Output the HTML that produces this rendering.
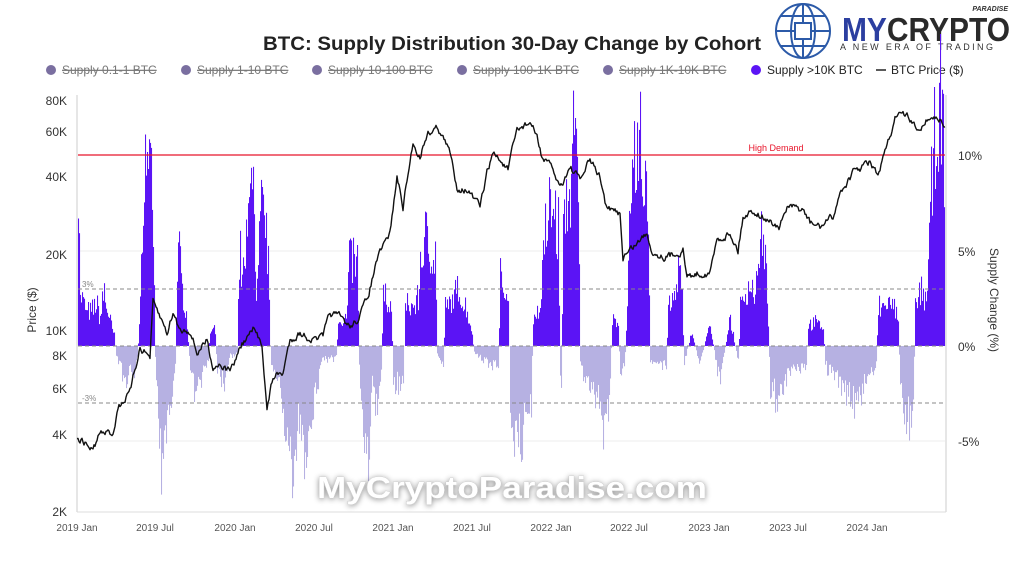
<!DOCTYPE html>
<html><head><meta charset="utf-8"><style>
body{margin:0;background:#fff;}
svg{display:block;font-family:"Liberation Sans",sans-serif;}
</style></head><body>
<svg id="c" width="1024" height="576" xmlns="http://www.w3.org/2000/svg">
<rect width="1024" height="576" fill="#fff"/>
<text x="512" y="50" text-anchor="middle" font-size="19" font-weight="bold" fill="#222" textLength="498" lengthAdjust="spacingAndGlyphs">BTC: Supply Distribution 30-Day Change by Cohort</text>
<g font-size="12" fill="#777">
<circle cx="51" cy="70" r="5" fill="#7a6fa0"/><text x="62" y="74" text-decoration="line-through">Supply 0.1-1 BTC</text>
<circle cx="186" cy="70" r="5" fill="#7a6fa0"/><text x="197" y="74" text-decoration="line-through">Supply 1-10 BTC</text>
<circle cx="317" cy="70" r="5" fill="#7a6fa0"/><text x="328" y="74" text-decoration="line-through">Supply 10-100 BTC</text>
<circle cx="462" cy="70" r="5" fill="#7a6fa0"/><text x="473" y="74" text-decoration="line-through">Supply 100-1K BTC</text>
<circle cx="608" cy="70" r="5" fill="#7a6fa0"/><text x="619" y="74" text-decoration="line-through">Supply 1K-10K BTC</text>
<circle cx="756" cy="70" r="5" fill="#5b14f5"/><text x="767" y="74" fill="#222">Supply &gt;10K BTC</text>
<line x1="876" y1="70" x2="886" y2="70" stroke="#222" stroke-width="1.5"/><text x="891" y="74" fill="#222">BTC Price ($)</text>
</g>
<g stroke="#2c5aa8" stroke-width="2" fill="none">
<circle cx="803" cy="31" r="27"/>
<ellipse cx="803" cy="31" rx="12" ry="27"/>
<line x1="776" y1="31" x2="830" y2="31"/><line x1="803" y1="4" x2="803" y2="58"/>
<path d="M781 16 H825 M781 46 H825"/>
<rect x="795" y="23" width="16" height="16" fill="#fff"/>
</g>
<text x="842" y="41" font-size="33" font-weight="bold" fill="#2a2a2a" textLength="168" lengthAdjust="spacingAndGlyphs"><tspan fill="#2c3fa0">MY</tspan>CRYPTO</text>
<text x="1008" y="11" font-size="7" font-weight="bold" font-style="italic" fill="#333" text-anchor="end">PARADISE</text>
<text x="840" y="50" font-size="9" fill="#333" letter-spacing="2.4">A NEW ERA OF TRADING</text>
<g font-size="12" fill="#333">
<text x="67" y="105" text-anchor="end">80K</text>
<text x="67" y="136" text-anchor="end">60K</text>
<text x="67" y="181" text-anchor="end">40K</text>
<text x="67" y="259" text-anchor="end">20K</text>
<text x="67" y="335" text-anchor="end">10K</text>
<text x="67" y="360" text-anchor="end">8K</text>
<text x="67" y="393" text-anchor="end">6K</text>
<text x="67" y="439" text-anchor="end">4K</text>
<text x="67" y="516" text-anchor="end">2K</text>
<text x="958" y="160">10%</text>
<text x="958" y="256">5%</text>
<text x="958" y="351">0%</text>
<text x="958" y="446">-5%</text>
<text transform="translate(36,310) rotate(-90)" text-anchor="middle">Price ($)</text>
<text transform="translate(990,300) rotate(90)" text-anchor="middle">Supply Change (%)</text>
</g>
<g font-size="10" fill="#555" text-anchor="middle">
<text x="77" y="531">2019 Jan</text><text x="155" y="531">2019 Jul</text><text x="235" y="531">2020 Jan</text><text x="314" y="531">2020 Jul</text><text x="393" y="531">2021 Jan</text><text x="472" y="531">2021 Jul</text><text x="551" y="531">2022 Jan</text><text x="629" y="531">2022 Jul</text><text x="709" y="531">2023 Jan</text><text x="788" y="531">2023 Jul</text><text x="867" y="531">2024 Jan</text>
</g>
<g stroke="#eee"><line x1="78" y1="251" x2="945" y2="251"/><line x1="78" y1="441" x2="945" y2="441"/></g>
<line x1="77" y1="95" x2="77" y2="512" stroke="#ccc"/>
<line x1="946" y1="95" x2="946" y2="512" stroke="#ccc"/>
<line x1="77" y1="512" x2="946" y2="512" stroke="#ddd"/>
<g id="bars"></g>
<g stroke="#888" stroke-dasharray="4,3" stroke-width="1">
<line x1="78" y1="289" x2="945" y2="289"/><line x1="78" y1="346" x2="945" y2="346"/><line x1="78" y1="403" x2="945" y2="403"/>
</g>
<text x="82" y="287" font-size="8" fill="#888">3%</text>
<text x="82" y="401" font-size="8" fill="#888">-3%</text>
<line x1="78" y1="155" x2="945" y2="155" stroke="#e8142a" stroke-width="1.2"/>
<text x="776" y="151" font-size="9" fill="#e8142a" text-anchor="middle">High Demand</text>
<polyline id="price" fill="none" stroke="#111" stroke-width="1.4" stroke-linejoin="round"/>
<defs><filter id="sh" x="-10%" y="-50%" width="120%" height="200%"><feDropShadow dx="0" dy="1" stdDeviation="3" flood-color="#000" flood-opacity="0.45"/></filter></defs>
<text x="512" y="498" text-anchor="middle" font-size="31" font-weight="bold" fill="#fff" stroke="#bbb" stroke-width="0.6" style="paint-order:stroke" textLength="390" lengthAdjust="spacingAndGlyphs" filter="url(#sh)">MyCryptoParadise.com</text>
</svg>
<script>
var seed=7;function rnd(){seed=(seed*16807)%2147483647;return seed/2147483647;}
function interp(pts,x){for(var i=0;i<pts.length-1;i++){if(x>=pts[i][0]&&x<=pts[i+1][0]){var t=(x-pts[i][0])/(pts[i+1][0]-pts[i][0]||1);return pts[i][1]+t*(pts[i+1][1]-pts[i][1]);}}return pts[pts.length-1][1];}
var B=[[80,2.5],[82,2.7],[88,1.8],[92,1.8],[96,2.5],[100,1.5],[104,3.2],[108,2],[112,1],[115,0.5],[116,-0.5],[120,-1],[125,-2],[128,-1.5],[135,-1.5],[138,-0.5],[140,2],[142,6],[145,10],[148,12.5],[150,9],[152,7],[154,6],[155,-0.5],[156,-1],[158,-3],[160,-6],[164,-5],[168,-4],[172,-3],[176,-1],[177,4],[180,5],[182,3],[185,2.5],[188,1],[189,-0.5],[192,-1.5],[196,-3],[200,-2],[204,-1.5],[209,-0.5],[210,0.8],[215,1],[217,-1],[224,-2],[230,-0.5],[238,-0.5],[239,5],[244,4],[248,6],[251,12],[253,11],[256,2],[258,3.5],[260,6],[262,7.5],[265,7],[268,5],[271,-1],[275,-2],[280,-1.5],[282,-3],[286,-6],[290,-7],[293,-7.5],[296,-5],[300,-4],[305,-6],[310,-4],[315,-3],[322,-0.7],[337,-0.7],[338,1.5],[347,1.5],[349,4.6],[358,4.6],[359,-1],[363,-4],[368,-6.5],[372,-2],[378,-4],[382,-1],[383,2.5],[392,2.5],[393,-2],[404,-2],[405,2],[419,2.5],[420,5],[428,5.9],[436,5],[437,-0.5],[444,-1],[445,2],[460,3],[470,1.5],[475,-0.5],[490,-1],[499,-1],[500,3.6],[509,3],[510,-3],[517,-6],[525,-4],[532,-3],[533,1.5],[540,2],[545,6],[553,8.3],[559,6],[560,-2],[562,-2],[563,6],[570,9],[576,11.5],[579,8],[580,-1],[590,-2.5],[600,-3],[605,-5],[611,-1.5],[612,1.3],[619,1.3],[620,-2],[625,-1],[630,6],[636,10.5],[643,10],[649,7],[650,-1],[667,-1],[668,2],[676,3],[680,4.5],[683,2],[684,-1],[692,0.8],[700,-1],[710,1.2],[720,-2],[730,1.5],[739,-1],[740,2],[750,3.5],[756,3],[762,6.2],[768,2.5],[770,-2],[780,-3],[789,-1.5],[807,-1.2],[808,1.2],[824,1.2],[825,-1],[840,-2],[850,-2.5],[857,-3.5],[865,-2],[877,-1],[878,2],[890,2.5],[899,1.5],[900,-2.5],[908,-4],[914,-3],[915,2],[922,3.1],[927,2.5],[928,5],[933,9],[938,12.3],[943,12],[945,8]];
var g=document.getElementById('bars'),h='';
for(var x=78;x<945;x++){var v=interp(B,x+0.5);var r=rnd();v=v*(0.65+0.55*r*r+0.2*rnd());var y=346-v*19.1;
if(v>=0)h+='<rect x="'+x+'" y="'+y.toFixed(1)+'" width="1.05" height="'+(346-y).toFixed(1)+'" fill="#5b14f5"/>';
else h+='<rect x="'+x+'" y="346" width="1.05" height="'+(y-346).toFixed(1)+'" fill="#b6b1e2"/>';}
g.innerHTML=h;
var P=[[77,437],[85,443],[93,450],[100,433],[113,433],[118,407],[130,393],[140,347],[150,357],[153,303],[160,317],[167,333],[173,313],[180,330],[190,330],[197,353],[207,340],[213,367],[220,363],[227,370],[233,367],[240,347],[253,330],[262,343],[267,410],[273,377],[283,373],[290,340],[300,333],[313,340],[323,337],[330,313],[340,317],[350,327],[357,320],[367,300],[377,260],[390,233],[397,177],[403,207],[413,143],[420,157],[427,133],[438,127],[450,153],[457,187],[467,190],[480,207],[487,173],[493,153],[500,160],[508,170],[517,130],[530,122],[537,137],[542,157],[553,170],[560,187],[570,167],[580,180],[590,160],[600,177],[607,210],[620,213],[623,257],[647,233],[653,253],[667,257],[683,250],[687,277],[700,273],[710,273],[717,240],[730,233],[738,250],[743,217],[753,210],[767,220],[780,227],[787,207],[803,210],[810,223],[820,227],[833,217],[840,193],[853,173],[870,162],[878,177],[887,147],[897,113],[907,117],[917,130],[930,117],[940,120],[945,130]];
var s='',d=0;for(var x=77;x<=945;x+=1){d=d*0.6+(rnd()-0.5)*6;var y=interp(P,x)+d;s+=x+','+y.toFixed(1)+' ';}
document.getElementById('price').setAttribute('points',s);
</script>
</body></html>
